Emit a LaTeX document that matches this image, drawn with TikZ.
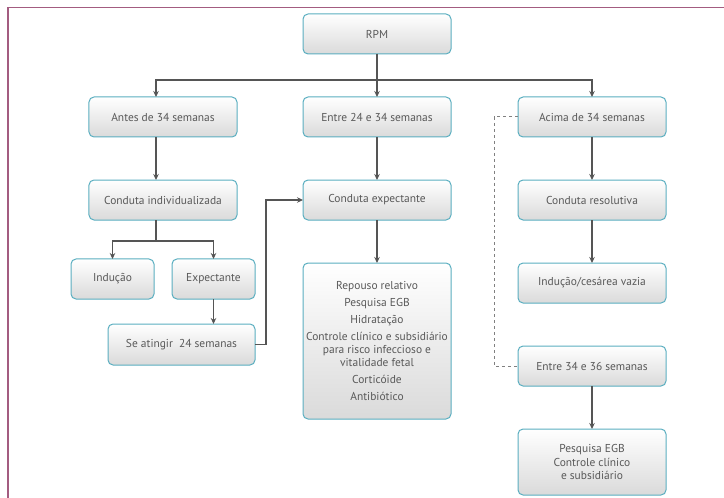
\documentclass[tikz,border=0pt]{standalone}
\usepackage{fontspec}
\setmainfont{PT Sans}
\usepackage{xcolor}
\usetikzlibrary{positioning,arrows.meta}
\definecolor{boxline}{HTML}{5AAEC0}
\definecolor{boxfill}{HTML}{DADADA}
\definecolor{txtgray}{HTML}{595959}
\definecolor{arrgray}{HTML}{555555}
\definecolor{framered}{HTML}{A35C80}

\begin{document}
\begin{tikzpicture}[
  x=1bp, y=-1bp,
  node distance=43bp,
  box/.style={rectangle, rounded corners=5bp, draw=boxline, line width=1bp, outer sep=0pt, top color=white, bottom color=boxfill, minimum width=148bp, minimum height=40bp, inner sep=2bp, align=center, text=txtgray, font=\fontsize{11.5}{13.3}\selectfont},
  arr/.style={-{Stealth[length=6bp,width=5.5bp]}, line width=1.2bp, arrgray},
  dashline/.style={dashed, line width=1bp, gray}
]
\useasboundingbox (0,0) rectangle (724,498);
\draw[framered, line width=1.5bp] (8,498) -- (8,7.5) -- (724,7.5);

\node[box] (rpm) at (377,34) {RPM};
\node[box, below=43bp of rpm] (entre) {Entre 24 e 34 semanas};
\node[box, left=66bp of entre] (antes) {Antes de 34 semanas};
\node[box, right=67bp of entre] (acima) {Acima de 34 semanas};
\node[box, below=43bp of antes] (indiv) {Conduta individualizada};
\node[box, below=43bp of entre] (expect) {Conduta expectante};
\node[box, below=43bp of acima] (resol) {Conduta resolutiva};
\node[box, minimum width=83bp] (inducao) at (112.5,279) {Indução};
\node[box, minimum width=83bp] (expectante) at (213.5,279) {Expectante};
\node[box, minimum width=147bp, minimum height=41bp] (atingir) at (181.5,344.5) {Se atingir\ \ 24 semanas};
\node[box, below=43bp of expect, minimum height=156bp] (cuidados) {Repouso relativo\\[3.7bp]
  Pesquisa EGB\\[3.7bp]
  Hidratação\\[3.7bp]
  Controle clínico e subsidiário\\
  para risco infeccioso e\\
  vitalidade fetal\\[3.7bp]
  Corticóide\\[3.7bp]
  Antibiótico};
\node[box, below=43bp of resol] (vazia) {Indução/cesárea vazia};
\node[box, below=43bp of vazia] (semanas) {Entre 34 e 36 semanas};
\node[box, below=43bp of semanas, minimum height=66bp] (controle) {Pesquisa EGB\\Controle clínico\\e subsidiário};

% ligações
\draw[arr] (rpm) -- (entre);
\draw[arr] (rpm.south) -- ++(0,26) -| ([xshift=-7bp]antes.north);
\draw[arr] (rpm.south) -- ++(0,26) -| (acima.north);
\draw[arr] ([xshift=-7bp]antes.south) -- ([xshift=-7bp]indiv.north);
\draw[arr] ([xshift=-7bp]indiv.south) -- ++(0,21) -| (inducao.north);
\draw[arr] ([xshift=-7bp]indiv.south) -- ++(0,21) -| (expectante.north);
\draw[arr] (expectante.south) -- (expectante.south |- atingir.north);
\draw[arr] (atingir.east) -- ++(11,0) |- (expect.west);
\draw[arr] (entre) -- (expect);
\draw[arr] (expect) -- (cuidados);
\draw[arr] (acima) -- (resol);
\draw[arr] (resol) -- (vazia);
\draw[dashline] (acima.west) -- ++(-24,0) |- (semanas.west);
\draw[arr] (semanas) -- (controle);
\end{tikzpicture}
\end{document}
